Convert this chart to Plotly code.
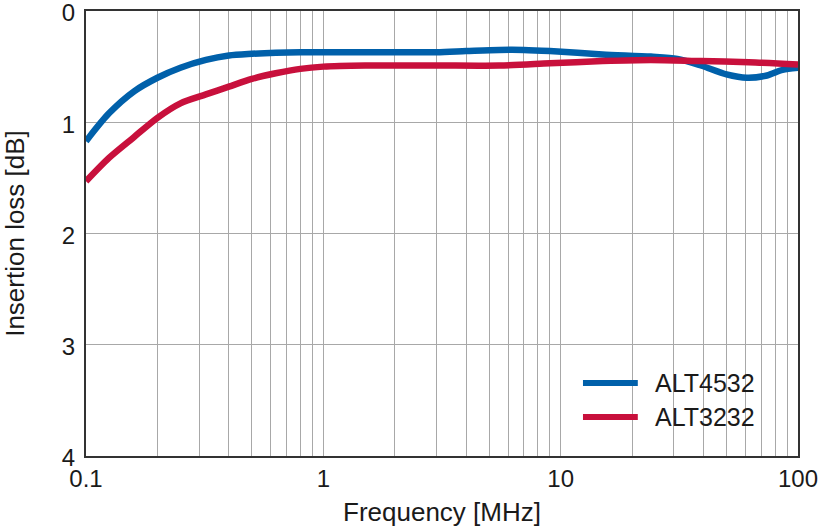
import plotly.graph_objects as go

# frequency [MHz] / insertion loss [dB]
freq_4532 = [0.1, 0.125, 0.16, 0.2, 0.25, 0.32, 0.4, 0.5, 0.63, 0.8, 1.0, 2.0, 3.0, 4.0, 5.5, 7.0, 9.0,
             15, 24, 31, 39, 50, 61, 74, 86, 100]
loss_4532 = [1.17, 0.92, 0.72, 0.60, 0.51, 0.44, 0.40, 0.385, 0.375, 0.37, 0.37, 0.37, 0.37, 0.36, 0.35,
             0.35, 0.36, 0.39, 0.41, 0.43, 0.49, 0.57, 0.60, 0.58, 0.53, 0.51]

freq_3232 = [0.1, 0.125, 0.16, 0.2, 0.25, 0.32, 0.4, 0.5, 0.63, 0.8, 1.0, 1.5, 3.0, 5.5, 9.0,
             15, 24, 39, 62, 100]
loss_3232 = [1.53, 1.32, 1.13, 0.96, 0.83, 0.75, 0.68, 0.61, 0.56, 0.52, 0.50, 0.49, 0.49, 0.49, 0.47,
             0.45, 0.44, 0.45, 0.46, 0.48]

names = ["ALT4532", "ALT3232"]
colors = ["#0060AA", "#C8103C"]

x_ticks = [0.1, 1, 10, 100]
x_labels = ["0.1", "1", "10", "100"]
x_minor = [m * d for d in (0.1, 1, 10) for m in range(2, 10)]
y_ticks = [0, 1, 2, 3, 4]

font = "Liberation Sans, Arial, Helvetica, sans-serif"
grid = "#a8a8a8"

fig = go.Figure()
for xs, ys, c in zip([freq_4532, freq_3232], [loss_4532, loss_3232], colors):
    fig.add_trace(go.Scatter(x=xs, y=ys, mode="lines", line=dict(color=c, width=6.5, shape="spline", smoothing=0.8),
                             showlegend=False, cliponaxis=False))

# legend drawn by hand so the line swatches are long like the original
fig.add_shape(type="rect", xref="paper", yref="paper", x0=0.673, x1=0.963, y0=0.031, y1=0.222,
              fillcolor="white", line_width=0, layer="between")
for i, (n, c) in enumerate(zip(names, colors)):
    yy = 0.164 - i * 0.0765
    fig.add_shape(type="line", xref="paper", yref="paper", x0=0.698, x1=0.775, y0=yy, y1=yy,
                  line=dict(color=c, width=6))
    fig.add_annotation(xref="paper", yref="paper", x=0.796, y=yy, text=n, showarrow=False,
                       xanchor="left", yanchor="middle", font=dict(size=25, color="#1a1a1a", family=font))

fig.update_layout(
    width=820, height=529,
    margin=dict(l=86, r=22, t=11, b=73),
    paper_bgcolor="white", plot_bgcolor="white",
    font=dict(family=font, color="#1a1a1a", size=24),
    xaxis=dict(type="log", range=[-1, 2], tickvals=x_ticks, ticktext=x_labels, automargin=False,
               ticklabeloverflow="allow",
               showgrid=True, gridcolor=grid, gridwidth=1,
               minor=dict(tickvals=x_minor, showgrid=True, gridcolor=grid, gridwidth=1),
               showline=True, linecolor="#333333", linewidth=2, mirror=True, ticks="",
               title=dict(text="Frequency [MHz]", font=dict(size=26), standoff=12)),
    yaxis=dict(range=[4, 0], tickvals=y_ticks, showgrid=True, gridcolor=grid, gridwidth=1,
               automargin=False, ticklabeloverflow="allow", zeroline=False, showline=True,
               linecolor="#333333", linewidth=2, mirror=True, ticks="", ticklabelstandoff=4,
               ticklabelshift=-2,
               title=dict(text="Insertion loss [dB]", font=dict(size=26), standoff=37)),
)

fig.write_html("out.html", config={"displayModeBar": False},
               post_script="document.body.style.margin='0';")
